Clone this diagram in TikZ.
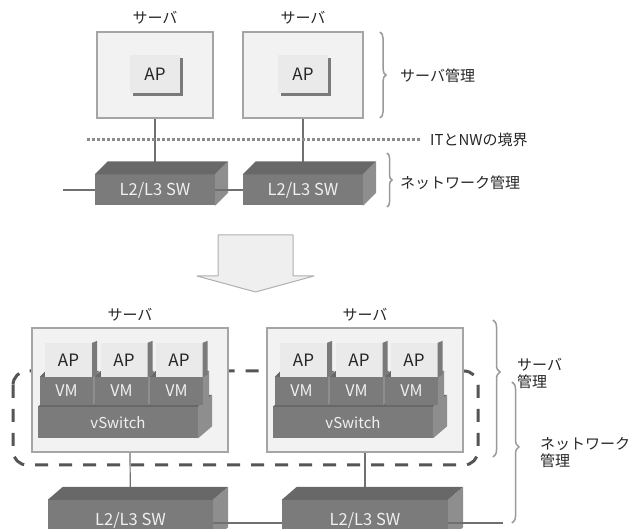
\documentclass[tikz,border=0pt]{standalone}
\usepackage{fontspec}
\setmainfont{Noto Sans CJK JP}
\usetikzlibrary{decorations.pathreplacing,calc}
\pgfdeclarelayer{bg}
\pgfsetlayers{bg,main}
\definecolor{srvfill}{HTML}{F2F2F2}
\definecolor{srvline}{HTML}{A5A5A5}
\definecolor{apfill}{HTML}{EAEAEA}
\definecolor{apshadow}{HTML}{7A7A7A}
\definecolor{blkfront}{HTML}{7B7B7B}
\definecolor{blktop}{HTML}{686868}
\definecolor{blkside}{HTML}{8E8E8E}
\definecolor{blktext}{HTML}{F0F0F0}
\definecolor{conncol}{HTML}{707070}
\definecolor{bracecol}{HTML}{9A9A9A}
\definecolor{dashcol}{HTML}{555555}
\definecolor{dotcol}{HTML}{8A8A8A}
\definecolor{arrowfill}{HTML}{EFEFEF}
\definecolor{arrowline}{HTML}{B0B0B0}
\newcommand{\blkfaces}[3]{%
  \fill[blktop] (#1.north west) -- ($(#1.north west)+(#2,-#3)$) -- ($(#1.north east)+(#2,-#3)$) -- (#1.north east) -- cycle;
  \fill[blkside] (#1.north east) -- ($(#1.north east)+(#2,-#3)$) -- ($(#1.south east)+(#2,-#3)$) -- (#1.south east) -- cycle;
}
\begin{document}
\begin{tikzpicture}[x=1pt,y=-1pt,
  lbl/.style={font=\fontsize{15}{17}\selectfont, text=black!85, inner sep=0pt},
  srv/.style={draw=srvline, fill=srvfill, line width=1.3pt, inner sep=0pt},
  apbox/.style={fill=apfill, inner sep=0pt, font=\fontsize{17}{19}\selectfont, text=black!85},
  apshd/.style={fill=apshadow, inner sep=0pt},
  dark/.style={fill=blkfront, inner sep=0pt, text=blktext, font=\fontsize{16}{18}\selectfont},
  swfont/.style={font=\fontsize{16.5}{18}\selectfont},
  conn/.style={draw=conncol, line width=1.2pt},
  brc/.style={draw=bracecol, line width=1.5pt, decorate},
  dotline/.style={draw=dotcol, line width=3pt, dash pattern=on 3pt off 2pt},
  dashst/.style={draw=dashcol, line width=3pt, dash pattern=on 13pt off 11pt},
  arrowst/.style={fill=arrowfill, draw=arrowline, line width=1pt, line join=round},
]
\useasboundingbox (0,0) rectangle (630,529);
\clip (0,0) rectangle (630,529);

% ---------- top part ----------
\node[lbl] (tA) at (155,18) {サーバ};
\node[lbl] (tB) at (303,18) {サーバ};
\node[srv, minimum width=116pt, minimum height=86pt] (srvA) at (155,75) {};
\node[srv, minimum width=120pt, minimum height=86pt] (srvB) at (303,75) {};
\node[apshd, minimum width=50pt, minimum height=38pt] (apAs) at (158,77) {};
\node[apbox, minimum width=50pt, minimum height=38pt] (apA) at (155,74) {AP};
\node[apshd, minimum width=50pt, minimum height=38pt] (apBs) at (306,77) {};
\node[apbox, minimum width=50pt, minimum height=38pt] (apB) at (303,74) {AP};

\coordinate (dotL) at (87,140);
\node[lbl, anchor=west] (itnw) at (430,140) {ITとNWの境界};
\draw[dotline] (dotL) -- ([xshift=-10pt]itnw.west);

\node[dark, swfont, minimum width=120pt, minimum height=31pt] (swA) at (155,190) {L2/L3 SW};
\blkfaces{swA}{13}{13}
\node[dark, swfont, minimum width=120pt, minimum height=31pt] (swB) at (303,190) {L2/L3 SW};
\blkfaces{swB}{13}{13}
\coordinate (endL) at (63,190);
\draw[conn] (endL) -- (swA.west);
\draw[conn] (swA.east) -- (swB.west);

\draw[brc, decoration={brace, amplitude=6pt}] (380,32) -- (380,118);
\node[lbl, anchor=west] (mgA) at (400,76) {サーバ管理};
\draw[brc, decoration={brace, amplitude=5pt}] (387,153) -- (387,207);
\node[lbl, anchor=west] (mgB) at (400,183) {ネットワーク管理};

% ---------- arrow ----------
\draw[arrowst] (218,235) -- (293,235) -- (293,276) -- (314,276) -- (255.5,292) -- (197,276) -- (218,276) -- cycle;

% ---------- bottom part ----------
\node[lbl] (tC) at (130,315) {サーバ};
\node[lbl] (tD) at (365,315) {サーバ};
\node[srv, minimum width=196pt, minimum height=124pt] (srvC) at (130,390) {};
\node[srv, minimum width=196pt, minimum height=124pt] (srvD) at (365,390) {};

\foreach \o/\s in {0/L,235/R}{
  \node[dark, font=\fontsize{15}{17}\selectfont, minimum width=160pt, minimum height=31pt] (vs\s) at (118+\o,422.5) {vSwitch};
  \blkfaces{vs\s}{14}{12}
  \foreach \c/\i in {66.5/1,121.5/2,176.5/3}{
    \node[dark, minimum width=53pt, minimum height=28pt] (vm\s\i) at (\c+\o,391) {VM};
    \blkfaces{vm\s\i}{6}{6}
  }
  \foreach \c/\i in {68.5/1,124/2,179/3}{
    \node[apbox, minimum width=47pt, minimum height=34pt] (ap\s\i) at (\c+\o,360) {AP};
    \fill[apshadow] (ap\s\i.north east) -- ++(5,-2) -- ++(0,34) -- (ap\s\i.south east) -- cycle;
  }
}

\node[dark, swfont, minimum width=165pt, minimum height=40pt] (swC) at (130.5,520) {L2/L3 SW};
\blkfaces{swC}{15}{13}
\node[dark, swfont, minimum width=166pt, minimum height=40pt] (swD) at (365,520) {L2/L3 SW};
\blkfaces{swD}{15}{13}
\coordinate (endR) at (503,523);
\draw[conn] ([yshift=-3pt]swC.east) -- ([yshift=-3pt]swD.west);
\draw[conn] ([yshift=-3pt]swD.east) -- (endR);

\draw[brc, decoration={brace, amplitude=7pt, aspect=0.38}] (493,320) -- (493,457);
\node[lbl, anchor=west, align=left] (mgC) at (517,373) {サーバ\\管理};
\draw[brc, decoration={brace, amplitude=7pt, aspect=0.46}] (512,382) -- (512,523);
\node[lbl, anchor=west, align=left] (mgD) at (540,453) {ネットワーク\\管理};

% ---------- background layer ----------
\begin{pgfonlayer}{bg}
  \draw[dashst, rounded corners=14pt] (13,371) rectangle (478,465);
  \draw[conn] (srvA.south) -- (swA.center);
  \draw[conn] (srvB.south) -- (swB.center);
  \draw[conn] (srvC.south) -- (swC.center);
  \draw[conn] (srvD.south) -- (swD.center);
\end{pgfonlayer}
\end{tikzpicture}
\end{document}
